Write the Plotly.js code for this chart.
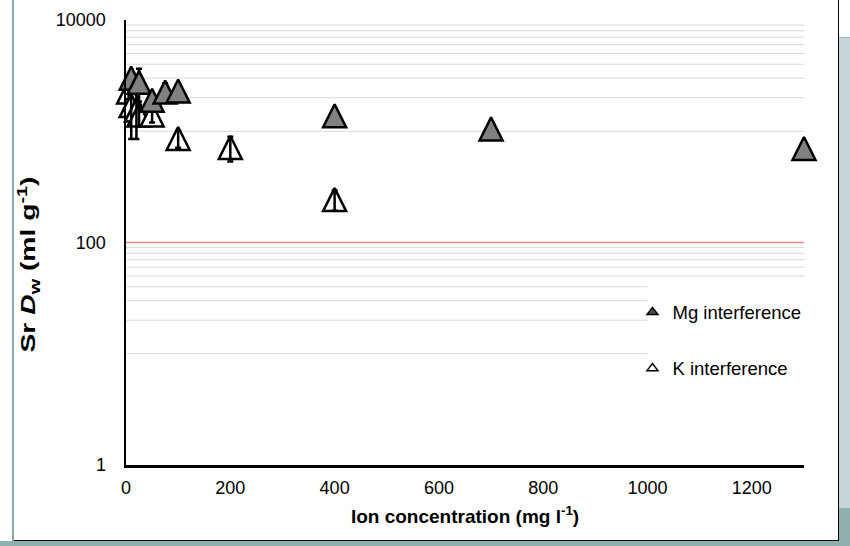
<!DOCTYPE html>
<html>
<head>
<meta charset="utf-8">
<script src="https://cdn.plot.ly/plotly-3.0.1.min.js"></script>
<style>
  html, body { margin: 0; padding: 0; background: #ffffff; }
  #wrap { position: relative; width: 850px; height: 546px; overflow: hidden; background: #ffffff; }
  #rightTop { position: absolute; left: 839px; top: 0; width: 11px; height: 37px; background: #ffffff; border-bottom: 1px solid #9fb4b8; }
  #rightMid { position: absolute; left: 839px; top: 38px; width: 11px; height: 470px; background: #c7d4d9; }
  #rightBot { position: absolute; left: 839px; top: 508px; width: 11px; height: 38px; background: #8fb0ae; }
  #bottom { position: absolute; left: 0; top: 541px; width: 850px; height: 5px; background: #8fb0ae; }
  #leftLine { position: absolute; left: 12px; top: 0; width: 2px; height: 541px; background: #8aa6a6; }
  #chart { position: absolute; left: 14px; top: 0; width: 825px; height: 541px;
           border-right: 1px solid #000; border-bottom: 1px solid #000; box-sizing: border-box; background: #fff; }
</style>
</head>
<body>
<div id="wrap">
  <div id="rightTop"></div>
  <div id="rightMid"></div>
  <div id="rightBot"></div>
  <div id="bottom"></div>
  <div id="leftLine"></div>
  <div id="chart"></div>
</div>
<script>
// ---- data ----
var mgConc   = [10, 25, 50, 75, 100, 400, 700, 1300];
var mgDw     = [3000, 2750, 1900, 2250, 2300, 1380, 1050, 700];
var mgErr    = [350, 900, 250, 450, 350, 150, 100, 70];

var kConc    = [5, 10, 20, 25, 50, 100, 200, 400];
var kDw      = [2250, 1700, 1550, 1400, 1400, 860, 714, 243];
var kErr     = [300, 850, 700, 300, 200, 150, 180, 50];

var xTicks   = [0, 200, 400, 600, 800, 1000, 1200];
var yTicks   = [1, 100, 10000];
var yTickText = ['1', '100', '10000'];

// light grey horizontal guide lines (full width / ending at x=1000 behind legend)
var gridFull  = [1000, 2000, 3000, 4000, 5000, 6000, 7000, 8000, 9000, 50, 60, 70, 80, 90];
var gridShort = [10, 20, 30, 40];
var gridShortEnd = 1000;
var refLine = 100;
var xMax = 1300;

var FONT = 'Liberation Sans, Arial, Helvetica, sans-serif';
var MSIZE = 23;

var shapes = [];
gridFull.forEach(function (v) {
  shapes.push({type: 'line', layer: 'below', xref: 'paper', yref: 'y', x0: 0, x1: 1, y0: v, y1: v,
               line: {color: '#d9d9d9', width: 1}});
});
gridShort.forEach(function (v) {
  shapes.push({type: 'line', layer: 'below', xref: 'x', yref: 'y', x0: 0, x1: gridShortEnd, y0: v, y1: v,
               line: {color: '#d9d9d9', width: 1}});
});
shapes.push({type: 'line', layer: 'below', xref: 'paper', yref: 'y', x0: 0, x1: 1, y0: refLine, y1: refLine,
             line: {color: '#f08a87', width: 1.5}});

function triMarker(fill) {
  return {symbol: 'arrow-down', angle: 180, standoff: MSIZE / 2, size: MSIZE,
          color: fill, line: {color: '#000000', width: 2.5}};
}

var traces = [
  {type: 'scatter', mode: 'markers', x: kConc, y: kDw, showlegend: false, cliponaxis: false,
   marker: triMarker('#ffffff'), hoverinfo: 'x+y'},
  {type: 'scatter', mode: 'markers', x: kConc, y: kDw, showlegend: false, cliponaxis: false,
   marker: {size: 1, opacity: 0}, hoverinfo: 'skip',
   error_y: {type: 'data', array: kErr, visible: true, color: '#000000', thickness: 2.5, width: 3}},
  {type: 'scatter', mode: 'markers', x: mgConc, y: mgDw, showlegend: false, cliponaxis: false,
   marker: triMarker('#808080'), hoverinfo: 'x+y',
   error_y: {type: 'data', array: mgErr, visible: true, color: '#000000', thickness: 2.5, width: 3}},
  // legend entries
  {type: 'scatter', mode: 'markers', x: [null], y: [null], name: 'Mg interference', legendgroup: 'mg',
   marker: {symbol: 'triangle-up', size: 9.5, color: '#505050', line: {color: '#000', width: 1.5}}},
  {type: 'scatter', mode: 'markers', x: [null], y: [null], name: 'K interference', legendgroup: 'k',
   marker: {symbol: 'triangle-up', size: 9.5, color: '#ffffff', line: {color: '#000', width: 1.5}}}
];

var layout = {
  width: 825, height: 541,
  margin: {l: 112, r: 35, t: 20, b: 76, pad: 0},
  paper_bgcolor: 'rgba(0,0,0,0)', plot_bgcolor: 'rgba(0,0,0,0)',
  font: {family: FONT, color: '#000000', size: 18},
  showlegend: true,
  legend: {x: 0.747, xanchor: 'left', y: 0.385, yanchor: 'top', bgcolor: 'rgba(0,0,0,0)',
           font: {size: 18.5, family: FONT, color: '#000'}, traceorder: 'grouped', tracegroupgap: 29,
           itemwidth: 30},
  xaxis: {range: [0, xMax], tickvals: xTicks, showgrid: false, zeroline: false,
          showline: true, linecolor: '#000', linewidth: 2.5, ticks: '', ticklabelstandoff: 5,
          tickfont: {size: 18, family: FONT},
          title: {text: '<b>Ion concentration (mg l<sup>-1</sup>)</b>', font: {size: 19, family: FONT}, standoff: 13}},
  yaxis: {type: 'log', range: [0, 4], tickvals: yTicks, ticktext: yTickText, showgrid: false, zeroline: false,
          showline: true, linecolor: '#000', linewidth: 2.5, ticks: '', ticklabelstandoff: 14,
          tickfont: {size: 18, family: FONT},
          title: {text: '<b>Sr <i>D</i><sub>w</sub> (ml g<sup>-1</sup>)</b>', font: {size: 20, family: FONT}, standoff: 18}},
  shapes: shapes
};

Plotly.newPlot('chart', traces, layout, {displayModeBar: false, staticPlot: true}).then(function (gd) {
  // the reference's rotated y title is stretched along its length; mimic that
  var t = gd.querySelector('.ytitle');
  if (t) {
    t.setAttribute('textLength', '176');
    t.setAttribute('lengthAdjust', 'spacingAndGlyphs');
    var tr = t.getAttribute('transform') || '';
    t.setAttribute('transform', 'translate(0,22) ' + tr);
  }
});
</script>
</body>
</html>
